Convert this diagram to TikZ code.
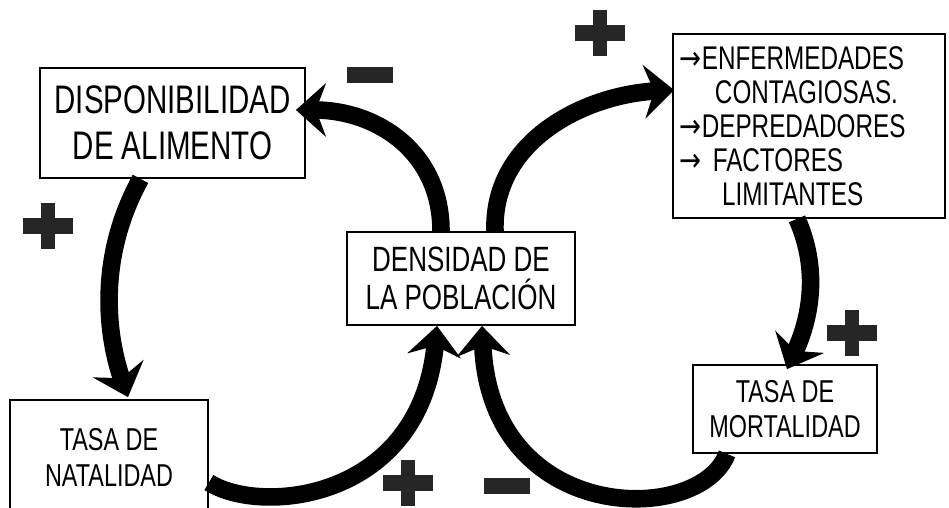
\documentclass[tikz,border=0pt]{standalone}
\usepackage{fontspec}
\setmainfont[FakeStretch=0.74]{Liberation Sans}
\newfontfamily\flechafont[FakeStretch=0.8]{DejaVu Sans}
\usetikzlibrary{arrows.meta,calc}
\newcommand{\mas}[1]{\fill[black!85] ($(#1)+(-25,-8)$) rectangle ($(#1)+(25,8)$); \fill[black!85] ($(#1)+(-7,-23)$) rectangle ($(#1)+(7,23)$);}
\newcommand{\menos}[1]{\fill[black!85] ($(#1)+(-23,-8)$) rectangle ($(#1)+(23,8)$);}
\newcommand{\fl}{{\flechafont →}}
\begin{document}
\begin{tikzpicture}[x=0.03cm, y=-0.03cm, caja/.style = {draw, line width=1.5pt, align=center, inner sep=0pt}, flecha/.style = {line width=15pt, -{Stealth[length=0.9cm, width=1.6cm, inset=0.3cm]}}]
  \useasboundingbox (0,0) rectangle (949,508);
  \node[caja, minimum width=7.95cm, minimum height=3.3cm, font=\fontsize{34}{39}\selectfont] (disp) at (172.5,123) {DISPONIBILIDAD\\DE ALIMENTO};
  \node[caja, minimum width=5.94cm, minimum height=3.45cm, font=\fontsize{27}{31}\selectfont] (nat) at (109,457.5) {TASA DE\\NATALIDAD};
  \node[caja, minimum width=6.84cm, minimum height=2.79cm, font=\fontsize{30}{32}\selectfont] (dens) at (461,278.5) {DENSIDAD DE\\LA POBLACIÓN};
  \node[caja, minimum width=8.16cm, minimum height=5.52cm, text width=7.75cm, align=left, font=\fontsize{28}{29}\selectfont] (lim) at (809,126) {\fl ENFERMEDADES\\\hspace*{30pt}CONTAGIOSAS.\\\fl DEPREDADORES\\\fl\ FACTORES\\\hspace*{36pt}LIMITANTES};
  \node[caja, minimum width=5.52cm, minimum height=2.64cm, font=\fontsize{27}{30}\selectfont] (mort) at (785,409) {TASA DE\\MORTALIDAD};
  % flechas
  \draw[flecha] ($(dens.north)+(-20,0)$) .. controls +(0,-80) and +(80,0) .. ($(disp.east)+(-10,-13)$);
  \draw[flecha] ($(dens.north)+(34,0)$) .. controls +(-3,-90) and +(-90,5) .. ($(lim.west)+(2,-36)$);
  \draw[flecha] ($(disp.south)+(-32,0)$) .. controls +(-45,82) and +(-20,-58) .. ($(nat.north)+(19,-2)$);
  \draw[flecha] ($(nat.east)+(0,25)$) .. controls +(52,33) and +(-17,175) .. ($(dens.south)+(-24,0)$);
  \draw[flecha] ($(lim.south)+(-12,0)$) .. controls +(23,52) and +(23,-50) .. ($(mort.north)+(2,5)$);
  \draw[flecha] ($(mort.south)+(-58,0)$) .. controls +(-27,72) and +(8,200) .. ($(dens.south)+(21,0)$);
  % signos
  \coordinate (s1) at (600,33);
  \coordinate (s2) at (370,75);
  \coordinate (s3) at (48,226);
  \coordinate (s4) at (852,333);
  \coordinate (s5) at (408,483);
  \coordinate (s6) at (507,486);
  \mas{s1} \menos{s2} \mas{s3} \mas{s4} \mas{s5} \menos{s6}
\end{tikzpicture}
\end{document}
